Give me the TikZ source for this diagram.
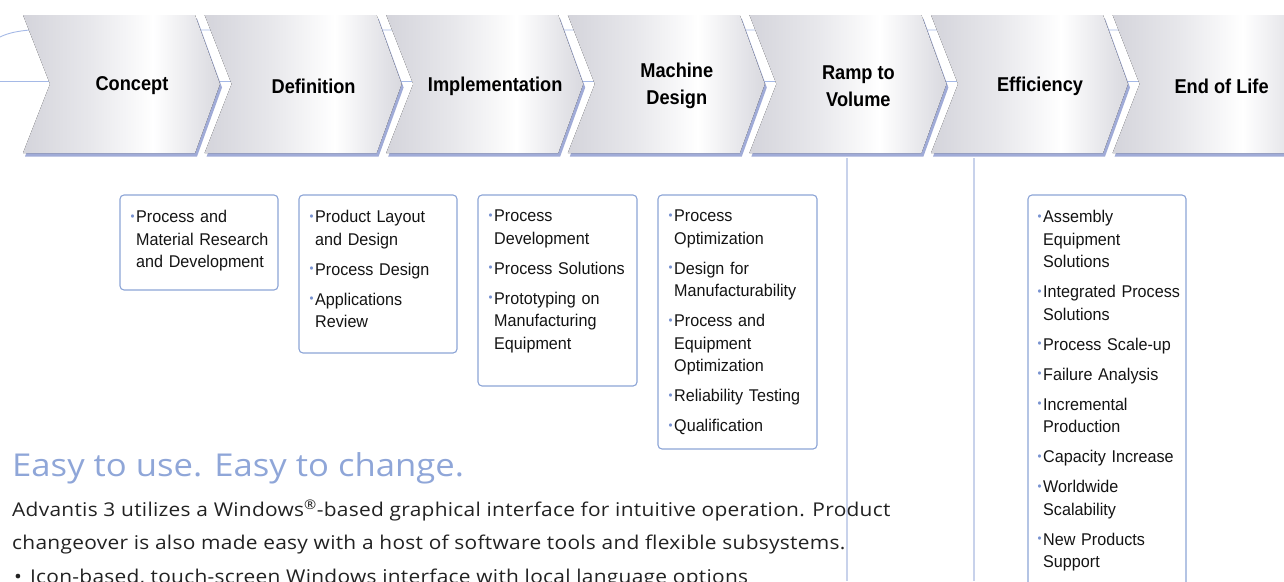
\documentclass[tikz,border=0pt]{standalone}
\usepackage{fontspec}
\usepackage{xcolor}
\usetikzlibrary{positioning,calc}
\newfontfamily\stagefont[FakeStretch=0.91]{Liberation Sans}
\newfontfamily\listfont[FakeStretch=0.95]{Liberation Sans}
\newfontfamily\headfont[FakeStretch=1.1]{Open Sans}
\newfontfamily\bodyfont[FakeStretch=1.1,LetterSpace=1.5]{Open Sans}
\definecolor{frameblue}{RGB}{140,164,214}
\definecolor{dotblue}{RGB}{120,146,208}
\definecolor{guideblue}{RGB}{165,185,230}
\definecolor{rulegray}{RGB}{200,210,235}
\definecolor{chevshadow}{RGB}{160,171,215}
\definecolor{stagegray}{RGB}{212,212,219}
\definecolor{headblue}{RGB}{143,166,216}
\definecolor{bodytext}{RGB}{34,34,34}
\pgfdeclarehorizontalshading{stageshade}{100bp}{color(0bp)=(stagegray); color(25bp)=(stagegray); color(42bp)=(stagegray!55!white); color(58bp)=(white); color(75bp)=(stagegray!90!white); color(100bp)=(stagegray!90!white)}
\newcommand{\lbul}{\makebox[0pt][r]{\raisebox{2.5pt}{\textcolor{dotblue}{\fontsize{12}{12}\selectfont\textbullet}}\hspace{1.5pt}}}
\tikzset{
    stage shadow/.style={fill=chevshadow},
    stage fill/.style={shading=stageshade},
    stage label/.style={font=\stagefont\bfseries\fontsize{20}{27}\selectfont, align=center, text=black},
    guide line/.style={guideblue, line width=0.9pt},
    column rule/.style={rulegray, line width=1.2pt},
    list frame/.style={draw=frameblue, line width=1.1pt, rounded corners=4pt},
    list text/.style={anchor=north west, text width=150pt, align=left,
        font=\listfont\fontsize{17}{22.5}\selectfont, text=black!92},
    body line/.style={anchor=base west, font=\bodyfont\fontsize{19}{19}\selectfont, text=bodytext},
}
\tikzstyle{every node}=[inner sep=0pt]

\begin{document}
\begin{tikzpicture}[x=1pt,y=-1pt]
        \useasboundingbox (0,0) rectangle (1284,581);

        \draw[guide line] (0,37) .. controls (8,33) and (18,31) .. (30,30) -- (1284,30);
        \draw[guide line] (0,81) -- (1284,81);

        \foreach \lbl [count=\i from 0] in {Concept, Definition, Implementation,
                {Machine\\Design}, {Ramp to\\Volume}, Efficiency, {End of Life}} {
            \coordinate (s\i) at (23+181.6*\i,15);
            \fill[stage shadow] ($(s\i)+(2,3.5)$) -- ++(172,0) -- ++(25,69)
                -- ++(-25,69) -- ++(-172,0) -- ++(27,-69) -- cycle;
            \fill[stage fill] (s\i) -- ++(172,0) -- ++(25,69)
                -- ++(-25,69) -- ++(-172,0) -- ++(27,-69) -- cycle;
            \node[stage label] (lbl\i) at ($(s\i)+(109,71)$) {\lbl};
        }

        \draw[column rule] (847,158) -- (847,581);
        \draw[column rule] (974,158) -- (974,581);

        \coordinate (b1) at (120,195);
        \coordinate (b2) at (299,195);
        \coordinate (b3) at (478,195);
        \coordinate (b4) at (658,195);
        \coordinate (b5) at (1028,195);

        \draw[list frame] (b1) rectangle ++(158,95);
        \draw[list frame] (b2) rectangle ++(158,158);
        \draw[list frame] (b3) rectangle ++(159,191);
        \draw[list frame] (b4) rectangle ++(159,254);
        \draw[list frame] (b5) rectangle ++(158,420);

        \node[list text] (t1) at ($(b1)+(16,15)$)
            {\lbul Process and\\Material Research\\and Development};
        \node[list text] (t2) at ($(b2)+(16,15)$)
            {\lbul Product Layout\\and Design\\[7.5pt]\lbul Process Design\\[7.5pt]
             \lbul Applications\\Review};
        \node[list text] (t3) at ($(b3)+(16,15)$)
            {\lbul Process\\Development\\[7.5pt]\lbul Process Solutions\\[7.5pt]
             \lbul Prototyping on\\Manufacturing\\Equipment};
        \node[list text] (t4) at ($(b4)+(16,15)$)
            {\lbul Process\\Optimization\\[7.5pt]\lbul Design for\\Manufacturability\\[7.5pt]
             \lbul Process and\\Equipment\\Optimization\\[7.5pt]
             \lbul Reliability Testing\\[7.5pt]\lbul Qualification};
        \node[list text] (t5) at ($(b5)+(15,15)$)
            {\lbul Assembly\\Equipment\\Solutions\\[7.5pt]
             \lbul Integrated Process\\Solutions\\[7.5pt]
             \lbul Process Scale-up\\[7.5pt]\lbul Failure Analysis\\[7.5pt]
             \lbul Incremental\\Production\\[7.5pt]\lbul Capacity Increase\\[7.5pt]
             \lbul Worldwide\\Scalability\\[7.5pt]\lbul New Products\\Support};

        \node[anchor=base west, font=\headfont\fontsize{31.5}{31.5}\selectfont, text=headblue]
            (head) at (12,476) {Easy to use. Easy to change.};
        \node[body line] (para1) at (12,516)
            {Advantis 3 utilizes a Windows\textsuperscript{\textregistered}-based graphical interface for intuitive operation. Product};
        \node[body line] (para2) at (12,549)
            {changeover is also made easy with a host of software tools and flexible subsystems.};
        \node[body line] (bul1) at (14,583)
            {\textbullet\hspace{8pt}Icon-based, touch-screen Windows interface with local language options};
    \end{tikzpicture}
\end{document}
